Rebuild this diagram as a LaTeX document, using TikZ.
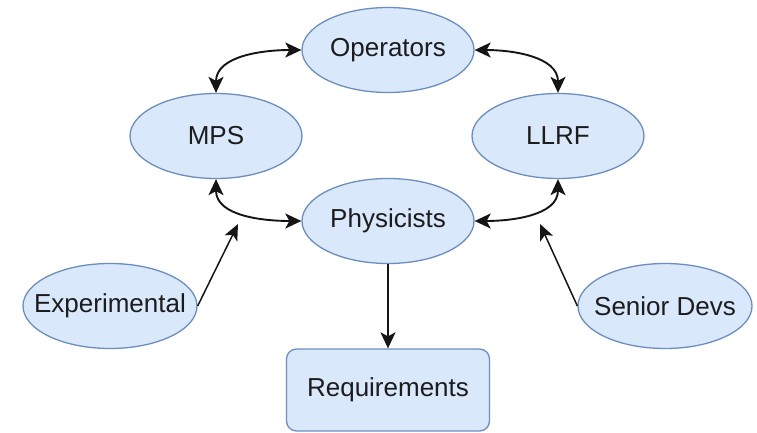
\documentclass[tikz,border=0pt]{standalone}
\usepackage{fontspec}
\setmainfont{Liberation Sans}
\usetikzlibrary{shapes.geometric,arrows.meta}
\definecolor{nodefill}{HTML}{DAE8FC}
\definecolor{nodedraw}{HTML}{6C8EBF}
\definecolor{edgecol}{HTML}{151515}
\definecolor{txtcol}{HTML}{1C1C1C}
\newcommand{\ctext}[1]{\makebox[0pt][c]{#1}}
\begin{document}
\begin{tikzpicture}[x=1pt,y=1pt,
  oval/.style={ellipse,draw=nodedraw,fill=nodefill,line width=1.3pt,
    minimum width=172pt,minimum height=85pt,inner sep=0pt,text=txtcol,
    font=\fontsize{26}{30}\selectfont},
  reqbox/.style={rectangle,rounded corners=10pt,draw=nodedraw,fill=nodefill,line width=1.3pt,
    minimum width=203pt,minimum height=82pt,inner sep=0pt,text=txtcol,
    font=\fontsize{26}{30}\selectfont},
  link/.style={draw=edgecol,line width=1.9pt,>={Stealth[length=16pt,width=15pt,inset=4pt]}},
  feed/.style={draw=edgecol,line width=1.5pt,>={Stealth[length=16pt,width=14pt,inset=4pt]}}
]
\useasboundingbox (0,0) rectangle (757,-433);
\node[oval] (ops)  at (388,-50)  {\ctext{Operators}};
\node[oval] (mps)  at (216,-136) {\ctext{MPS}};
\node[oval] (llrf) at (558,-136) {\ctext{LLRF}};
\node[oval] (phys) at (388,-221) {\ctext{Physicists}};
\node[oval,minimum width=174pt] (exp) at (110,-306) {\ctext{Experimental}};
\node[oval,minimum width=174pt] (sen) at (665,-306) {\ctext{Senior Devs}};
\node[reqbox] (req) at (388,-390) {Requirements};
\coordinate (e1) at (238,-224);
\coordinate (s1) at (540,-224);
\draw[link,<->] (mps.north) to[out=90,in=180] (ops.west);
\draw[link,<->] (llrf.north) to[out=90,in=0] (ops.east);
\draw[link,<->] (mps.south) to[out=-90,in=180] (phys.west);
\draw[link,<->] (llrf.south) to[out=-90,in=0] (phys.east);
\draw[link,->] (phys.south) -- (req.north);
\draw[feed,->] (exp.east) -- (e1);
\draw[feed,->] (sen.west) -- (s1);
\end{tikzpicture}
\end{document}
